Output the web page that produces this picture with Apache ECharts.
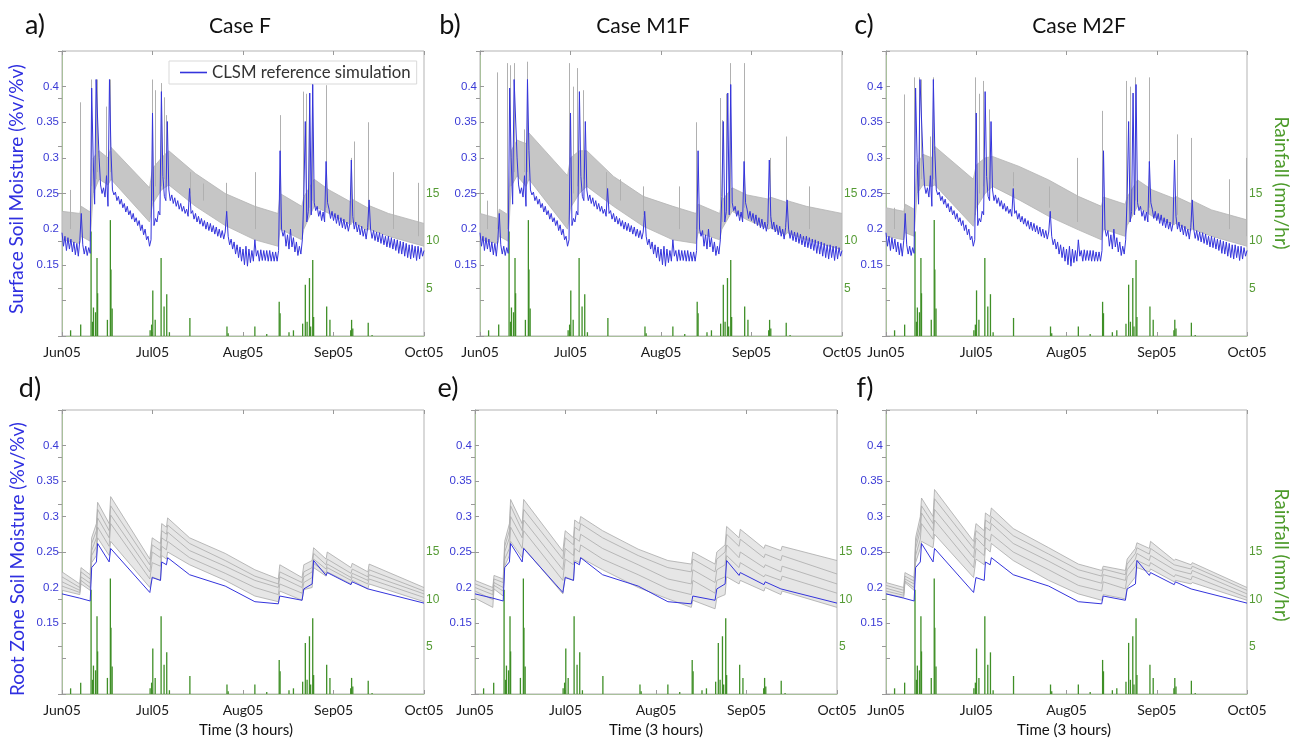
<!DOCTYPE html>
<html><head><meta charset="utf-8">
<script src="https://cdn.jsdelivr.net/npm/echarts@6/dist/echarts.min.js"></script>
<style>html,body{margin:0;padding:0;background:#fff}#c{width:1297px;height:741px}</style>
</head><body><div id="c"></div>
<script>
// ---------- labels ----------
const monthLabels = ['Jun05','Jul05','Aug05','Sep05','Oct05'];
const panelLetters = ['a)','b)','c)','d)','e)','f)'];
const caseTitles = ['Case F','Case M1F','Case M2F'];

// ---------- rainfall (mm/hr), day since Jun 1 ----------
const rainDays = [2.9,6.3,9.8,10.3,10.6,11.3,11.8,12.0,15.3,16.3,16.5,16.9,29.7,30.2,30.6,31.4,33.4,34.4,35.3,36.2,43.1,55.6,56.0,65.0,69.0,73.2,73.5,76.5,78.0,81.1,82.0,82.6,83.4,83.8,84.5,84.8,89.2,90.3,97.3,97.6,98.0,103.2,104.5];
const rainVals = [0.6,1.2,11.0,1.5,3.0,2.5,8.2,4.5,1.7,12.2,7.0,2.9,0.6,1.2,4.8,1.7,8.2,3.1,4.4,0.4,1.9,1.0,0.3,1.0,0.2,3.6,2.4,0.4,0.6,1.3,5.4,1.5,6.1,1.0,8.0,2.0,3.1,1.7,0.6,1.7,0.8,1.4,0.1];

// ---------- CLSM reference surface soil moisture, every 0.5 day ----------
const surfRef = [
0.195,0.176,0.190,0.170,0.188,0.172,0.186,0.168,0.182,0.164,
0.180,0.162,0.184,0.222,0.178,0.165,0.176,0.163,0.174,0.166,
0.398,0.300,0.235,0.410,0.410,0.300,0.262,0.250,0.258,0.245,
0.275,0.232,0.410,0.310,0.255,0.248,0.252,0.240,0.246,0.235,
0.242,0.230,0.236,0.224,0.232,0.220,0.226,0.214,0.222,0.210,
0.216,0.205,0.212,0.198,0.206,0.192,0.200,0.185,0.190,0.176,
0.185,0.363,0.205,0.215,0.210,0.225,0.220,0.393,0.274,0.246,
0.240,0.351,0.255,0.240,0.248,0.236,0.244,0.232,0.240,0.228,
0.236,0.225,0.232,0.222,0.228,0.218,0.257,0.222,0.226,0.214,
0.222,0.210,0.218,0.207,0.215,0.204,0.212,0.200,0.210,0.198,
0.208,0.196,0.205,0.193,0.203,0.190,0.200,0.188,0.198,0.186,
0.196,0.225,0.190,0.178,0.186,0.172,0.182,0.165,0.178,0.160,
0.175,0.155,0.172,0.150,0.176,0.148,0.172,0.153,0.170,0.155,
0.185,0.162,0.170,0.155,0.171,0.156,0.170,0.156,0.170,0.155,
0.170,0.155,0.168,0.155,0.168,0.155,0.170,0.310,0.200,0.190,
0.198,0.176,0.192,0.172,0.200,0.175,0.188,0.168,0.182,0.163,
0.176,0.165,0.185,0.246,0.351,0.210,0.225,0.391,0.220,0.403,
0.237,0.226,0.232,0.218,0.226,0.212,0.224,0.210,0.295,0.237,
0.228,0.215,0.225,0.212,0.222,0.208,0.220,0.205,0.216,0.202,
0.214,0.200,0.210,0.197,0.208,0.297,0.218,0.200,0.210,0.196,
0.206,0.192,0.204,0.190,0.200,0.186,0.202,0.241,0.200,0.187,
0.198,0.184,0.196,0.182,0.195,0.180,0.193,0.178,0.190,0.175,
0.190,0.174,0.188,0.172,0.186,0.170,0.185,0.166,0.183,0.165,
0.182,0.162,0.180,0.160,0.178,0.158,0.178,0.160,0.176,0.156,
0.176,0.158,0.174,0.162,0.170];

// ---------- surface ensemble spread (lower / upper) ----------
const bandDays = [0,6,6.5,9.5,10.5,12.5,15.5,16.5,29.5,30.5,33.5,36,45,55,65,72.8,73.5,80.8,81.5,85,90,97.4,97.8,103,103.5,110,122];
const bandLoA = [0.185,0.18,0.19,0.183,0.25,0.27,0.262,0.27,0.21,0.235,0.255,0.262,0.232,0.205,0.185,0.176,0.2,0.185,0.2,0.232,0.222,0.206,0.21,0.198,0.2,0.19,0.176];
const bandHiA = [0.225,0.222,0.232,0.224,0.30,0.31,0.30,0.315,0.258,0.285,0.30,0.31,0.278,0.25,0.232,0.222,0.25,0.232,0.245,0.27,0.255,0.238,0.242,0.23,0.233,0.222,0.208];
const bandLoB = [0.185,0.18,0.19,0.183,0.26,0.275,0.26,0.27,0.2,0.23,0.25,0.26,0.232,0.204,0.185,0.18,0.195,0.185,0.2,0.225,0.213,0.2,0.202,0.192,0.195,0.185,0.171];
const bandHiB = [0.222,0.215,0.228,0.22,0.31,0.325,0.32,0.335,0.275,0.3,0.31,0.31,0.274,0.246,0.232,0.222,0.235,0.222,0.24,0.258,0.248,0.242,0.245,0.238,0.24,0.232,0.222];
const bandLoC = [0.19,0.185,0.195,0.19,0.25,0.262,0.26,0.262,0.204,0.23,0.25,0.26,0.241,0.218,0.199,0.185,0.2,0.19,0.205,0.232,0.218,0.206,0.208,0.198,0.2,0.19,0.176];
const bandHiC = [0.23,0.225,0.235,0.228,0.29,0.305,0.3,0.316,0.27,0.29,0.3,0.302,0.288,0.269,0.246,0.232,0.245,0.235,0.245,0.269,0.255,0.243,0.246,0.236,0.24,0.227,0.213];

// ---------- ensemble spikes: [day, base, top] ----------
const spikesA = [[2.9,0.2,0.255],[6.3,0.2,0.378],[10,0.26,0.41],[11.4,0.27,0.41],[11.9,0.28,0.41],[15,0.27,0.372],[16.2,0.28,0.41],[30.4,0.24,0.41],[31.5,0.26,0.395],[33.3,0.26,0.405],[34.4,0.27,0.385],[35.3,0.27,0.36],[43.1,0.25,0.28],[47.6,0.24,0.264],[55.5,0.22,0.265],[65,0.2,0.28],[73.4,0.2,0.36],[81.3,0.2,0.393],[82.2,0.22,0.39],[83.4,0.23,0.39],[84.5,0.24,0.41],[89.2,0.23,0.402],[97.6,0.21,0.3],[98.5,0.21,0.323],[103.3,0.2,0.35],[111.7,0.2,0.28],[120.2,0.19,0.265]];
const spikesB = [[2.6,0.2,0.24],[5.9,0.2,0.42],[9.3,0.2,0.433],[10.1,0.26,0.43],[11.6,0.28,0.433],[14.9,0.28,0.34],[15.8,0.28,0.435],[30,0.22,0.433],[31.3,0.25,0.4],[32.9,0.26,0.426],[34.8,0.27,0.395],[42.7,0.24,0.28],[47.4,0.24,0.27],[55,0.22,0.26],[67,0.2,0.26],[73,0.2,0.35],[80.9,0.2,0.384],[81.8,0.21,0.353],[83.1,0.22,0.39],[84.2,0.23,0.433],[88.9,0.23,0.433],[97.8,0.21,0.3],[103.3,0.21,0.33],[111,0.2,0.26]];
const spikesC = [[2.7,0.2,0.23],[6.1,0.2,0.389],[9.4,0.2,0.413],[11.1,0.26,0.413],[11.8,0.27,0.41],[14.8,0.27,0.33],[15.8,0.27,0.413],[30,0.22,0.413],[31.5,0.25,0.39],[33,0.26,0.408],[34.8,0.27,0.368],[43,0.26,0.28],[55.1,0.23,0.26],[64.7,0.21,0.3],[73,0.2,0.366],[81.1,0.2,0.408],[82.5,0.22,0.4],[84.3,0.24,0.413],[89,0.23,0.413],[98.5,0.22,0.333],[103,0.21,0.328],[116,0.2,0.27],[121.6,0.19,0.3]];

// ---------- root zone soil moisture ----------
const rootDays = [0,6,6.4,9.5,10,11.6,12,15.9,16.4,29.6,30.4,33.2,33.6,35.2,35.6,43,55,65,72.9,73.4,80.9,81.5,84.3,84.8,89,89.4,97.4,97.8,103.1,103.5,122];
const rootRef = [0.191,0.185,0.184,0.181,0.228,0.236,0.262,0.236,0.255,0.193,0.214,0.21,0.236,0.232,0.242,0.218,0.202,0.18,0.177,0.188,0.182,0.198,0.205,0.238,0.217,0.221,0.204,0.208,0.198,0.2,0.178];
const rootD1 = [.222,.205,.228,.218,.27,.29,.32,.29,.328,.24,.27,.262,.29,.285,.298,.27,.248,.225,.212,.232,.214,.232,.238,.256,.24,.25,.228,.234,.222,.233,.2];
const rootD2 = [.215,.2,.222,.212,.262,.28,.31,.28,.315,.232,.26,.252,.28,.275,.288,.262,.238,.216,.205,.222,.207,.222,.228,.248,.232,.24,.22,.226,.215,.225,.195];
const rootD3 = [.208,.196,.215,.206,.252,.27,.298,.27,.302,.222,.25,.242,.27,.265,.278,.252,.23,.21,.2,.215,.2,.215,.222,.24,.226,.233,.214,.22,.21,.218,.191];
const rootD4 = [.202,.193,.21,.2,.245,.258,.285,.258,.29,.212,.235,.23,.258,.253,.265,.242,.22,.2,.19,.205,.192,.207,.214,.234,.22,.228,.21,.215,.205,.212,.186];
const rootD5 = [.196,.19,.205,.196,.235,.245,.27,.245,.265,.2,.215,.21,.245,.24,.25,.232,.21,.188,.18,.195,.182,.197,.2,.228,.216,.222,.205,.21,.198,.205,.18];
const rootE1 = [.21,.2,.217,.212,.265,.29,.324,.29,.324,.251,.28,.27,.295,.29,.3,.28,.254,.238,.233,.25,.233,.25,.26,.286,.27,.282,.255,.26,.252,.258,.238];
const rootE2 = [.205,.195,.212,.207,.258,.28,.315,.28,.31,.24,.27,.26,.285,.28,.29,.27,.245,.228,.222,.24,.222,.24,.25,.275,.258,.268,.242,.247,.238,.245,.219];
const rootE3 = [.2,.19,.207,.2,.25,.27,.3,.27,.295,.225,.255,.245,.27,.265,.275,.255,.232,.212,.205,.225,.207,.225,.232,.26,.242,.25,.228,.232,.222,.23,.205];
const rootE4 = [.195,.183,.203,.195,.24,.255,.285,.255,.28,.21,.24,.232,.255,.25,.26,.24,.218,.198,.19,.21,.192,.21,.215,.245,.228,.235,.215,.218,.21,.216,.192];
const rootE5 = [.185,.172,.198,.188,.23,.245,.265,.242,.256,.191,.215,.21,.238,.235,.242,.225,.2,.184,.172,.182,.17,.185,.19,.215,.205,.21,.195,.2,.19,.195,.172];
const rootF1 = [.207,.2,.221,.214,.27,.3,.326,.3,.338,.265,.29,.28,.305,.3,.312,.283,.256,.233,.224,.23,.224,.24,.255,.263,.255,.265,.238,.24,.232,.235,.2];
const rootF2 = [.203,.196,.216,.209,.262,.29,.315,.29,.325,.255,.28,.27,.295,.29,.3,.273,.247,.225,.216,.226,.218,.233,.248,.256,.247,.255,.232,.234,.226,.23,.196];
const rootF3 = [.199,.192,.212,.205,.255,.28,.305,.28,.31,.242,.27,.258,.285,.28,.29,.262,.237,.215,.206,.218,.21,.225,.24,.248,.238,.245,.225,.227,.219,.224,.191];
const rootF4 = [.195,.189,.209,.2,.245,.268,.29,.268,.295,.228,.255,.245,.27,.265,.275,.25,.225,.203,.195,.208,.198,.215,.23,.238,.23,.235,.215,.218,.211,.216,.186];
const rootF5 = [.191,.186,.207,.196,.235,.255,.265,.256,.275,.214,.24,.232,.256,.25,.262,.238,.21,.191,.182,.19,.184,.2,.215,.228,.222,.226,.208,.21,.205,.207,.182];

// ---------- layout ----------
const grids = [
  {left:62, top:51, width:362, height:285},
  {left:480, top:51, width:362, height:285},
  {left:886, top:51, width:361, height:285},
  {left:62, top:410, width:362, height:284},
  {left:475, top:410, width:362, height:284},
  {left:886, top:410, width:361, height:284}
];
const BLUE = '#3434dc', GREEN = '#3f8f27';
const LEFTLAB = '#3a3ad6', RIGHTLAB = '#559b34';

function pairs(days, vals){ return days.map((d,i)=>[d, vals[i]]); }

const xAxes = [], yAxes = [], series = [];
grids.forEach((g,i)=>{
  Object.assign(g, {show:true, borderColor:'#b3b3b3', borderWidth:1, backgroundColor:'#fff'});
  xAxes.push({gridIndex:i, type:'value', min:0, max:122, interval:30.5, position:'bottom',
    axisLine:{show:true, lineStyle:{color:'#a9c09c'}},
    axisTick:{show:true, inside:true, length:4, lineStyle:{color:'#999'}},
    splitLine:{show:false},
    axisLabel:{show:true, margin:9, color:'#1a1a1a', fontSize:14, fontFamily:'Lato',
      showMinLabel:true, showMaxLabel:true,
      formatter:v=>monthLabels[Math.round(v/30.5)]}});
  xAxes.push({gridIndex:i, type:'value', min:0, max:122, interval:30.5, position:'top',
    axisLine:{show:false}, axisLabel:{show:false}, splitLine:{show:false},
    axisTick:{show:true, inside:true, length:4, lineStyle:{color:'#999'}}});
  yAxes.push({gridIndex:i, type:'value', min:0.05, max:0.45, interval:0.05, position:'left',
    axisLine:{show:true, lineStyle:{color:'#9a9ad2'}},
    axisTick:{show:true, inside:true, length:4, lineStyle:{color:'#999'}},
    splitLine:{show:false},
    axisLabel:{margin:3, color:LEFTLAB, fontSize:11.5, fontFamily:'Liberation Sans',
      formatter:v=>{const r=+(+v).toFixed(2); return (r>=0.149 && r<=0.401) ? String(r) : '';}}});
  yAxes.push({gridIndex:i, type:'value', min:0, max:30, interval:5, position:'right',
    axisLine:{show:true, lineStyle:{color:'#a9c09c'}},
    axisTick:{show:true, inside:true, length:4, lineStyle:{color:'#999'}},
    splitLine:{show:false},
    axisLabel:{margin:2, color:RIGHTLAB, fontSize:12, fontFamily:'Liberation Sans',
      formatter:v=>(v>=5 && v<=15) ? String(v) : ''}});
});

function ax(i){ return {xAxisIndex:2*i, yAxisIndex:2*i}; }
function axR(i){ return {xAxisIndex:2*i, yAxisIndex:2*i+1}; }

// ensemble spread drawn as a polygon through the axis scales
function addBand(i, days, lo, hi, fill, edge){
  series.push(Object.assign({type:'custom', silent:true, z:1, clip:true, data:[[days[0], lo[0]]],
    renderItem:(params, api)=>{
      const up = days.map((d,k)=>api.coord([d, hi[k]]));
      const dn = days.map((d,k)=>api.coord([d, lo[k]])).reverse();
      return {type:'polygon', shape:{points:up.concat(dn)},
        style:{fill:fill, stroke:edge, lineWidth:0.8}};
    }}, ax(i)));
}
function addSpikes(i, sp){
  series.push(Object.assign({type:'lines', coordinateSystem:'cartesian2d', silent:true, z:2,
    data:sp.map(s=>({coords:[[s[0],s[1]],[s[0],s[2]]]})),
    lineStyle:{color:'#b0b0b0', width:1, opacity:1}}, ax(i)));
}
function addRain(i){
  series.push(Object.assign({type:'bar', name:'rain'+i, barWidth:1.3, silent:true, z:3,
    data:pairs(rainDays, rainVals), itemStyle:{color:GREEN}}, axR(i)));
}
function addLine(i, data, color, width, name, z){
  series.push(Object.assign({type:'line', name:name, symbol:'none', silent:true, z:z,
    data:data, lineStyle:{color:color, width:width}, itemStyle:{color:color}}, ax(i)));
}

const surfData = surfRef.map((v,k)=>[k*0.5, v]);
const bandSets = [[bandLoA,bandHiA,spikesA],[bandLoB,bandHiB,spikesB],[bandLoC,bandHiC,spikesC]];
bandSets.forEach((b,i)=>{
  addBand(i, bandDays, b[0], b[1], '#c6c6c6', '#b4b4b4');
  addSpikes(i, b[2]);
  addRain(i);
  addLine(i, surfData, BLUE, 1, i===0 ? 'CLSM reference simulation' : 'ref'+i, 5);
});
const rootSets = [[rootD1,rootD2,rootD3,rootD4,rootD5],[rootE1,rootE2,rootE3,rootE4,rootE5],[rootF1,rootF2,rootF3,rootF4,rootF5]];
rootSets.forEach((r,j)=>{
  const i = j+3;
  addBand(i, rootDays, r[4], r[0], '#e6e6e6', '#aaaaaa');
  addRain(i);
  [r[1],r[2],r[3]].forEach((arr,k)=>addLine(i, pairs(rootDays, arr), '#ababab', 0.8, 'm'+i+k, 4));
  addLine(i, pairs(rootDays, rootRef), BLUE, 1, 'rootref'+i, 5);
});

// ---------- texts ----------
const texts = [];
function txt(x,y,text,size,color,rot){
  texts.push({type:'text', x:x, y:y, rotation:rot||0, silent:true,
    style:{text:text, fontSize:size, fontFamily:'Lato', fill:color, align:'center', verticalAlign:'middle'}});
}
[[35,25],[450,25],[864,25],[30,388],[448,388],[865,388]].forEach((p,k)=>txt(p[0],p[1],panelLetters[k],27,'#111'));
[[240,26],[643,26],[1079,26]].forEach((p,k)=>txt(p[0],p[1],caseTitles[k],21,'#111'));
txt(17,189,'Surface Soil Moisture (%v/%v)',19,'#2f2fe0',Math.PI/2);
txt(18,559,'Root Zone Soil Moisture (%v/%v)',19,'#2f2fe0',Math.PI/2);
txt(1281,183,'Rainfall (mm/hr)',19,'#4c9a2a',-Math.PI/2);
txt(1281,555,'Rainfall (mm/hr)',19,'#4c9a2a',-Math.PI/2);
txt(246,730,'Time (3 hours)',15,'#111');
txt(656,730,'Time (3 hours)',15,'#111');
txt(1064,730,'Time (3 hours)',15,'#111');

const chart = echarts.init(document.getElementById('c'), null, {renderer:'canvas'});
chart.setOption({
  animation:false,
  backgroundColor:'#fff',
  grid:grids, xAxis:xAxes, yAxis:yAxes, series:series,
  legend:{data:[{name:'CLSM reference simulation', icon:'rect'}], left:169, top:61,
    itemWidth:27, itemHeight:1.6, itemGap:5, padding:[3,6,3,11],
    borderColor:'#d9d9d9', borderWidth:1, backgroundColor:'#fff',
    textStyle:{fontFamily:'Lato', fontSize:16.8, color:'#333'}, selectedMode:false},
  graphic:texts
});
</script></body></html>
